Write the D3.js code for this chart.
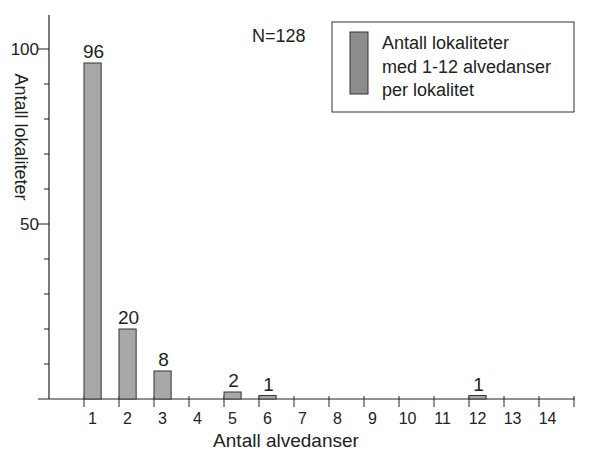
<!DOCTYPE html>
<html>
<head>
    <meta charset="utf-8">
    <script src="https://cdn.jsdelivr.net/npm/d3@7"></script>
    <style>
        body { margin: 0; background: #fff; }
        text { font-family: "Liberation Sans", Arial, sans-serif; fill: #222; }
    </style>
</head>
<body>
    <script>
        var categories = [1, 2, 3, 4, 5, 6, 7, 8, 9, 10, 11, 12, 13, 14];
        var counts = [96, 20, 8, 0, 2, 1, 0, 0, 0, 0, 0, 1, 0, 0];
        var yMajorTicks = [50, 100];
        var yMinorTicks = [10, 20, 30, 40, 60, 70, 80, 90];
        var legendLines = ['Antall lokaliteter', 'med 1-12 alvedanser', 'per lokalitet'];

        var width = 608, height = 451;
        var svg = d3.select('body').append('svg')
            .attr('width', width).attr('height', height);

        // bins: one per category, bar fills left half of each bin
        var x = d3.scaleBand().domain(categories).range([84, 574]).paddingInner(0).paddingOuter(0);
        var y = d3.scaleLinear().domain([0, 100]).range([399, 49]);
        var barW = x.bandwidth() * 0.49;

        // y axis line
        svg.append('line')
            .attr('x1', 49).attr('x2', 49).attr('y1', 15).attr('y2', y(0))
            .attr('stroke', '#222').attr('stroke-width', 1.2);
        svg.selectAll('.ymin').data(yMinorTicks).enter().append('line')
            .attr('x1', 44).attr('x2', 49)
            .attr('y1', function (d) { return y(d); }).attr('y2', function (d) { return y(d); })
            .attr('stroke', '#222');
        svg.selectAll('.ymaj').data(yMajorTicks).enter().append('line')
            .attr('x1', 38).attr('x2', 49)
            .attr('y1', function (d) { return y(d); }).attr('y2', function (d) { return y(d); })
            .attr('stroke', '#222');
        svg.selectAll('.ylab').data(yMajorTicks).enter().append('text')
            .attr('x', 39).attr('y', function (d) { return y(d) + 6; })
            .attr('text-anchor', 'end').attr('font-size', 17)
            .text(function (d) { return d; });

        // x axis line
        svg.append('line')
            .attr('x1', 38).attr('x2', 575).attr('y1', y(0)).attr('y2', y(0))
            .attr('stroke', '#222').attr('stroke-width', 1.2);
        var edges = categories.map(function (c) { return x(c); }).concat([x.range()[1]]);
        svg.selectAll('.xt').data(edges).enter().append('line')
            .attr('x1', function (d) { return d; }).attr('x2', function (d) { return d; })
            .attr('y1', y(0) - 3).attr('y2', y(0) + 8)
            .attr('stroke', '#222');

        // bars
        var nonZero = categories.filter(function (c, i) { return counts[i] > 0; });
        svg.selectAll('.bar').data(nonZero)
            .enter().append('rect')
            .attr('x', function (d) { return x(d); })
            .attr('y', function (d) { return y(counts[d - 1]); })
            .attr('width', barW)
            .attr('height', function (d) { return y(0) - y(counts[d - 1]); })
            .attr('fill', '#a8a8ab').attr('stroke', '#333').attr('stroke-width', 1);

        svg.selectAll('.val').data(nonZero)
            .enter().append('text')
            .attr('x', function (d) { return x(d) + barW / 2 + 1; })
            .attr('y', function (d) { return y(counts[d - 1]) - 5; })
            .attr('text-anchor', 'middle').attr('font-size', 19)
            .text(function (d) { return counts[d - 1]; });

        // x tick labels
        svg.selectAll('.xl').data(categories).enter().append('text')
            .attr('x', function (d) { return x(d) + barW / 2; })
            .attr('y', 424)
            .attr('text-anchor', 'middle').attr('font-size', 16)
            .text(function (d) { return d; });

        svg.append('text')
            .attr('x', 286).attr('y', 447)
            .attr('text-anchor', 'middle').attr('font-size', 19)
            .text('Antall alvedanser');

        svg.append('text')
            .attr('transform', 'translate(15,137) rotate(90)')
            .attr('text-anchor', 'middle').attr('font-size', 18)
            .text('Antall lokaliteter');

        svg.append('text')
            .attr('x', 252).attr('y', 42).attr('font-size', 18)
            .text('N=128');

        // legend
        var lg = svg.append('g');
        lg.append('rect')
            .attr('x', 332).attr('y', 22).attr('width', 242).attr('height', 90)
            .attr('fill', '#fff').attr('stroke', '#333').attr('stroke-width', 1);
        lg.append('rect')
            .attr('x', 350).attr('y', 32).attr('width', 18).attr('height', 62)
            .attr('fill', '#8c8c8e').attr('stroke', '#333').attr('stroke-width', 1);
        lg.selectAll('.lt').data(legendLines).enter().append('text')
            .attr('x', 382)
            .attr('y', function (d, i) { return 49 + i * 23.5; })
            .attr('font-size', 18)
            .text(function (d) { return d; });
    </script>
</body>
</html>
